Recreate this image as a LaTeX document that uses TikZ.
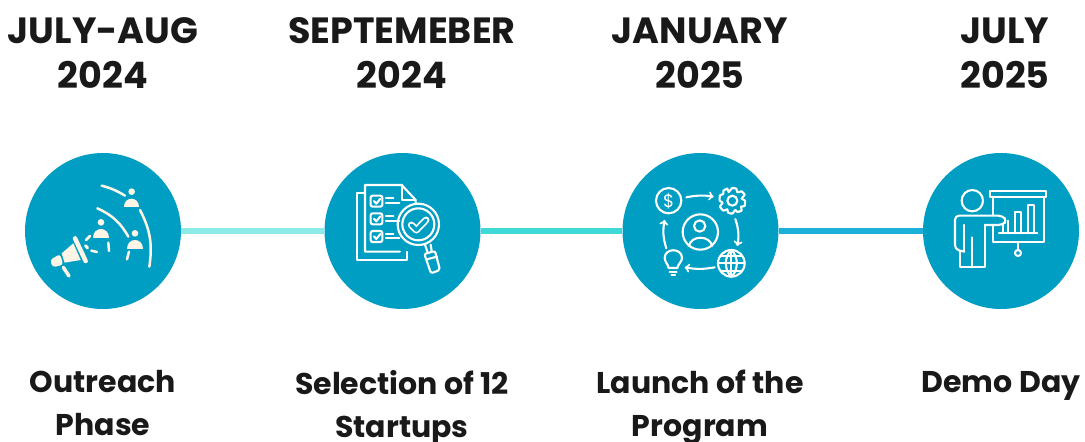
\documentclass[tikz,border=0pt]{standalone}
\usepackage{fontspec}
\setmainfont{Poppins}
\usetikzlibrary{positioning}
\definecolor{circblue}{HTML}{009EC3}
\definecolor{creamy}{HTML}{FFF5E6}
\definecolor{linea}{HTML}{8CEBE6}
\definecolor{lineb}{HTML}{3FDAD8}
\definecolor{linec}{HTML}{1BB0D8}
\tikzset{
  phase/.style={circle,fill=circblue,minimum size=156pt,inner sep=0pt},
  datelabel/.style={font=\fontsize{36.5}{45}\selectfont\bfseries,align=center,text=black!90,inner sep=0pt,
    execute at begin node=\strut,execute at end node=\strut},
  tasklabel/.style={font=\fontsize{30}{43}\selectfont\bfseries,align=center,text=black!90,inner sep=0pt,
    anchor=north,execute at begin node=\strut},
  joinline/.style={line width=6pt},
  iconline/.style={draw=white,line width=2.1pt,line cap=round,line join=round},
  creamline/.style={draw=creamy,line width=2.5pt,line cap=round},
  loud/.style={fill=creamy},
  arrowline/.style={iconline,->}
}
\begin{document}
\begin{tikzpicture}[x=1pt,y=-1pt]
\useasboundingbox (0,0) rectangle (1085,442);
\node[phase] (c1) at (103,231) {};
\node[phase] (c2) at (402.5,231) {};
\node[phase] (c3) at (700.5,231) {};
\node[phase] (c4) at (1001,231) {};
\draw[joinline,linea] (c1) -- (c2);
\draw[joinline,lineb] (c2) -- (c3);
\draw[joinline,linec] (c3) -- (c4);
\node[datelabel] (d1) at (103,60) {JULY-AUG\\2024};
\node[datelabel] (d2) at (402,60) {SEPTEMEBER\\2024};
\node[datelabel] (d3) at (700,60) {JANUARY\\2025};
\node[datelabel] (d4) at (1005,60) {JULY\hspace{9pt}\\2025};
\node[tasklabel] (t1) at (103,370) {Outreach\\Phase};
\node[tasklabel] (t2) at (402,370) {Selection of 12\\Startups};
\node[tasklabel] (t3) at (700,370) {Launch of the\\Program};
\node[tasklabel] (t4) at (1001,362) {Demo Day};
% megaphone and audience
\begin{scope}[shift={(20,150)},scale=1/3]
\draw[creamline] (245,107) to[bend left=8] (315,137);
\draw[creamline] (232,175) to[bend left=18] (325,260);
\draw[creamline] (360,180) to[bend left=18] (388,350);
\draw[creamline] (265,278) -- (267,303);
\draw[creamline] (327,305) -- (321,328);
\foreach \hx/\hy in {335/125,243/217,345/250} {
  \fill[loud] (\hx,\hy) circle (10);
  \fill[loud] (\hx-23,\hy+46) .. controls (\hx-23,\hy+12) and (\hx+23,\hy+12) .. (\hx+23,\hy+46) -- cycle;
}
\fill[loud] (125,310) -- (160,280) -- (182,330) -- (134,338) -- cycle;
\fill[loud,rounded corners=3pt] (90,330) -- (120,312) -- (130,344) -- (98,352) -- cycle;
\draw[creamy,line width=4.5pt,line cap=round] (165,265) -- (197,333);
\draw[creamy,line width=3.5pt,line cap=round] (130,352) -- (147,378);
\draw[creamline] (198,270) -- (210,258);
\draw[creamy,line width=3pt,line cap=round] (196,287) -- (203,294);
\draw[creamline] (214,302) -- (231,306);
\end{scope}
% checklist under a lens
\begin{scope}[shift={(320,150)},scale=1/3]
\draw[iconline] (135,128) -- (110,128) -- (110,330) -- (262,330) -- (262,306);
\draw[iconline] (240,305) -- (135,305) -- (135,105) -- (245,105) -- (287,150) -- (287,162);
\draw[iconline] (245,105) -- (245,150) -- (287,150);
\foreach \by in {137,190,243} {
  \draw[iconline,rounded corners=2pt] (152,\by) rectangle (187,\by+33);
  \draw[iconline] (162,\by+16) -- (169,\by+24) -- (181,\by+9);
  \draw[iconline] (198,\by+8) -- (220,\by+8);
  \draw[iconline] (198,\by+22) -- (238,\by+22);
}
\draw[iconline] (295,223) circle (62);
\draw[iconline] (295,223) circle (48);
\draw[white,line width=7pt,line join=round,line cap=round] (274,225) -- (289,240) -- (318,210);
\draw[circblue,line width=3.5pt,line join=round,line cap=round] (274,225) -- (289,240) -- (318,210);
\draw[iconline] (315,284) -- (323,308);
\draw[iconline] (332,284) -- (335,303);
\draw[iconline,rounded corners=2pt] (313,312) -- (345,303) -- (360,360) -- (333,370) -- cycle;
\draw[iconline] (320,328) -- (351,320);
\end{scope}
% cycle round the founder
\begin{scope}[shift={(618,150)},scale=1/3]
\draw[iconline] (152,152) circle (38);
\node[text=white,font=\fontsize{18}{18}\selectfont] (dollar) at (152,153) {\$};
\draw[arrowline] (205,142) to[bend left=10] (287,140);
\draw[arrowline] (352,207) to[bend left=14] (358,288);
\draw[arrowline] (290,352) to[bend left=10] (200,352);
\draw[arrowline] (145,295) to[bend left=14] (140,210);
\draw[iconline] (343,152) circle (15);
\draw[iconline] plot[smooth cycle,tension=0.25] coordinates {
  (343,114) (355,116) (358,127) (371,124) (380,134) (371,146)
  (381,152) (380,168) (369,170) (371,182) (358,186) (352,180)
  (343,191) (330,188) (328,178) (316,182) (306,170) (314,158)
  (305,152) (306,136) (316,132) (316,122) (328,116) (332,126)};
\draw[iconline] (247,246) circle (53);
\draw[iconline] (245,228) circle (17);
\draw[iconline] (213,288) .. controls (218,255) and (277,255) .. (282,288);
\draw[iconline] (340,340) circle (40);
\draw[iconline] (340,300) .. controls (318,320) and (318,360) .. (340,380);
\draw[iconline] (340,300) .. controls (362,320) and (362,360) .. (340,380);
\draw[iconline] (340,300) -- (340,380);
\draw[iconline] (300,340) -- (380,340);
\draw[iconline] (307,318) -- (373,318);
\draw[iconline] (307,362) -- (373,362);
\draw[iconline] (152,354) .. controls (150,342) and (140,335) .. (140,324) .. controls (140,293) and (192,293) .. (192,324) .. controls (192,335) and (180,342) .. (178,354) -- cycle;
\draw[iconline] (155,365) -- (176,365);
\draw[iconline] (160,376) -- (171,376);
\end{scope}
% speaker at a board
\begin{scope}[shift={(915,150)},scale=1/3]
\draw[iconline] (172,152) circle (32);
\draw[iconline,rounded corners=4pt] (148,305) -- (120,298) -- (120,197) -- (262,197) -- (276,212) -- (262,225) -- (210,225);
\draw[iconline] (148,225) -- (148,303);
\draw[iconline] (210,225) -- (210,352) -- (135,352) -- (135,303);
\draw[iconline] (172,262) -- (172,352);
\draw[iconline] (225,123) rectangle (394,142);
\draw[iconline] (233,142) -- (233,195);
\draw[iconline] (233,225) -- (233,277) -- (387,277) -- (387,142);
\draw[iconline] (252,250) -- (367,250);
\draw[iconline] (265,250) -- (265,225);
\draw[iconline] (280,250) -- (280,212);
\draw[iconline] (300,250) -- (300,185) -- (318,185) -- (318,250);
\draw[iconline] (338,250) -- (338,165) -- (358,165) -- (358,250);
\draw[iconline] (309,277) -- (309,298);
\draw[iconline] (309,309) circle (9);
\end{scope}
\end{tikzpicture}
\end{document}
